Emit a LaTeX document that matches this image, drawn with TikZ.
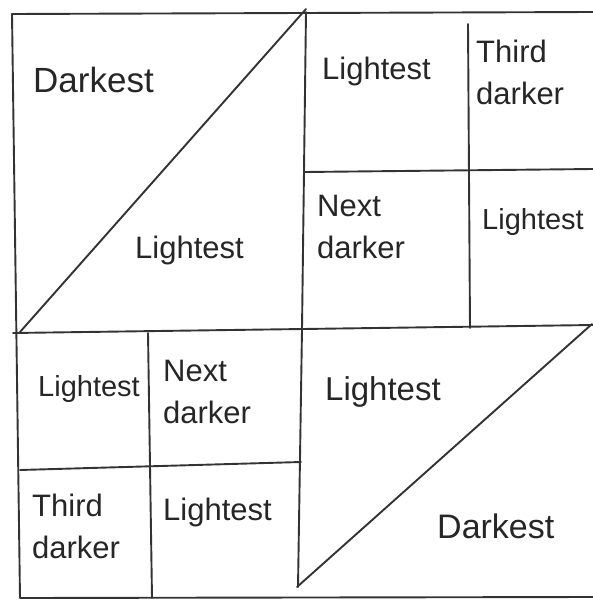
\documentclass[tikz,border=0pt]{standalone}
\usepackage{fontspec}
\setmainfont{Liberation Sans}
\begin{document}
\begin{tikzpicture}[x=1pt,y=-1pt,
  seam/.style={draw=black!80, line width=1.9pt, line cap=round, line join=round},
  lbl/.style={anchor=north west, inner sep=0pt, align=left, text=black!85,
    font=\fontsize{31}{42}\selectfont},
  small/.style={font=\fontsize{29}{40}\selectfont}]
\fill[white] (0,0) rectangle (593,602);
\useasboundingbox (0,0) rectangle (593,602);
% corners and seam points
\coordinate (tl) at (12,14);
\coordinate (tr) at (593,12);
\coordinate (bl) at (20,598);
\coordinate (br) at (593,597);
\coordinate (mtop) at (306,12);
\coordinate (mmid) at (302,329);
\coordinate (mbot) at (298,587);
\coordinate (ml) at (13,333);
\coordinate (mr) at (593,325);
\coordinate (d1a) at (20,332);
\coordinate (d1b) at (306,9);
\coordinate (v2a) at (468,24);
\coordinate (v2b) at (470,328);
\coordinate (h2a) at (305,172);
\coordinate (h2b) at (593,169);
\coordinate (v3a) at (148,333);
\coordinate (v3b) at (152,598);
\coordinate (h3a) at (20,470);
\coordinate (h3b) at (301,462);
\coordinate (d2a) at (297,587);
\coordinate (d2b) at (592,324);
% seams
\draw[seam] (tr) -- (tl) -- (bl) -- (br);
\draw[seam] (mtop) -- (mmid) -- (mbot);
\draw[seam] (ml) -- (mr);
\draw[seam] (d1a) -- (d1b);
\draw[seam] (v2a) -- (v2b);
\draw[seam] (h2a) -- (h2b);
\draw[seam] (v3a) -- (v3b);
\draw[seam] (h3a) -- (h3b);
\draw[seam] (d2a) -- (d2b);
% labels
\node[lbl, font=\fontsize{35}{42}\selectfont] (t1) at (33,67) {Darkest};
\node[lbl] (t2) at (135,236) {Lightest};
\node[lbl] (t3) at (322,57) {Lightest};
\node[lbl] (t4) at (476,40) {Third\\darker};
\node[lbl] (t5) at (317,195) {Next\\darker};
\node[lbl, small] (t6) at (482,208) {Lightest};
\node[lbl, small] (t7) at (38,375) {Lightest};
\node[lbl] (t8) at (163,360) {Next\\darker};
\node[lbl] (t9) at (32,494) {Third\\darker};
\node[lbl] (t10) at (163,498) {Lightest};
\node[lbl, font=\fontsize{33}{42}\selectfont] (t11) at (325,376) {Lightest};
\node[lbl, font=\fontsize{34}{42}\selectfont] (t12) at (437,514) {Darkest};
\end{tikzpicture}
\end{document}
